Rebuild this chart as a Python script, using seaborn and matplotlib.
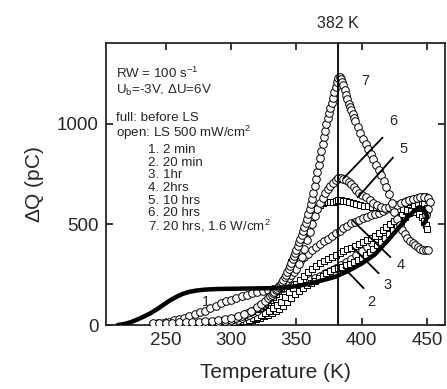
import numpy as np
import pandas as pd
import matplotlib
matplotlib.use("Agg")
import matplotlib.pyplot as plt
import seaborn as sns

# full curve, before light soaking
full_T = [213, 218, 223, 228, 233, 238, 243, 248, 253, 258, 263, 268, 273, 280, 290, 300, 310, 320, 330,
          340, 350, 360, 370, 380, 390, 400, 410, 420, 425, 430, 435, 440, 444, 447, 449, 450, 449, 447]
full_Q = [0, 5, 14, 27, 42, 58, 78, 100, 122, 140, 155, 165, 171, 176, 179, 180, 181, 182, 183,
          186, 193, 205, 222, 240, 270, 305, 350, 420, 458, 495, 535, 565, 585, 580, 560, 540, 515, 500]

# open curves after light soaking
c1_T = [240, 244, 248, 252, 256, 260, 264, 268, 272, 276, 280, 284, 288, 292, 296, 300, 304, 308, 312,
        316, 320, 324, 328, 332, 336, 340, 344, 348, 352, 356, 360, 364, 368, 372, 376, 380, 384, 388,
        392, 396, 400, 404, 408, 412, 416, 420, 424, 428, 432, 436, 440, 444, 447, 450]
c1_Q = [5, 8, 12, 17, 23, 30, 37, 45, 54, 63, 72, 84, 96, 107, 117, 126, 134, 142, 150,
        157, 163, 168, 173, 177, 181, 186, 192, 198, 205, 213, 222, 232, 244, 257, 270, 284, 298, 313,
        330, 348, 368, 388, 408, 430, 455, 480, 505, 530, 553, 573, 590, 598, 596, 575]

c2_T = [250, 253, 256, 259, 262, 265, 268, 271, 274, 277, 280, 283, 286, 289, 292, 295, 298, 301, 304,
        307, 310, 313, 316, 319, 322, 325, 328, 331, 334, 337, 340, 343, 346, 349, 352, 355, 358, 361,
        364, 367, 370, 373, 376, 379, 382, 385, 388, 391, 394, 397, 400, 403, 406, 409, 412, 415, 418,
        421, 424, 427, 430, 433, 436, 439, 442, 445, 448, 450]
c2_Q = [2, 2, 3, 3, 4, 4, 5, 5, 6, 6, 7, 7, 8, 8, 9, 9, 10, 11, 13,
        15, 18, 21, 25, 30, 36, 43, 50, 60, 70, 80, 95, 113, 133, 152, 168, 185, 197, 208,
        220, 232, 245, 258, 270, 278, 285, 290, 296, 303, 312, 323, 335, 348, 362, 378, 395, 413, 432,
        452, 473, 495, 517, 538, 557, 573, 585, 592, 585, 560]

c3_T = [260, 263, 266, 269, 272, 275, 278, 281, 284, 287, 290, 293, 296, 299, 302, 305, 308, 311, 314,
        317, 320, 323, 326, 329, 332, 335, 338, 341, 344, 347, 350, 353, 356, 359, 362, 365, 368, 371,
        374, 377, 380, 383, 386, 389, 392, 395, 398, 401, 404, 407, 410, 413, 416, 419, 422, 425, 428,
        431, 434, 437, 440, 443, 446, 448, 450]
c3_Q = [2, 3, 3, 4, 4, 5, 5, 6, 7, 8, 9, 10, 11, 12, 14, 16, 19, 22, 27,
        33, 40, 49, 59, 70, 83, 98, 115, 138, 162, 185, 205, 226, 245, 263, 280, 295, 307, 319,
        330, 340, 350, 360, 370, 378, 385, 393, 402, 411, 421, 432, 444, 457, 471, 486, 502, 518, 535,
        552, 568, 583, 596, 606, 612, 605, 580]

c4_T = [260, 263, 266, 269, 272, 275, 278, 281, 284, 287, 290, 293, 296, 299, 302, 305, 308, 311, 314,
        317, 320, 323, 326, 329, 332, 335, 338, 341, 344, 347, 350, 353, 356, 359, 362, 365, 368, 371,
        374, 377, 380, 383, 386, 389, 392, 395, 398, 401, 404, 407, 410, 413, 416, 419, 422, 425, 428,
        431, 434, 437, 440, 443, 446, 449, 451]
c4_Q = [3, 4, 5, 6, 7, 8, 9, 10, 12, 14, 16, 18, 19, 20, 22, 26, 33, 43, 52,
        61, 70, 85, 103, 122, 145, 170, 200, 228, 252, 276, 300, 320, 338, 355, 371, 387, 401, 415,
        428, 442, 455, 468, 480, 492, 505, 514, 523, 530, 537, 544, 551, 558, 566, 574, 582, 590, 598,
        606, 614, 621, 627, 632, 636, 635, 620]

c5_T = [260, 265, 270, 275, 280, 285, 290, 295, 300, 304, 308, 312, 316, 320, 322, 324, 326, 328, 330,
        332, 334, 336, 338, 340, 342, 344, 346, 348, 350, 352, 354, 356, 358, 360, 362, 364, 366, 368,
        370, 372, 374, 376, 378, 380, 382, 384, 386, 388, 390, 393, 396, 399, 402, 405, 408, 411, 414,
        417, 420, 423, 426, 429, 432, 435, 438, 441, 444, 446, 448, 449, 450]
c5_Q = [3, 4, 6, 8, 10, 13, 16, 20, 25, 35, 45, 58, 70, 80, 86, 92, 102, 113, 125,
        138, 152, 167, 185, 210, 245, 282, 315, 340, 362, 395, 425, 455, 485, 515, 538, 560, 580, 597,
        608, 612, 612, 610, 613, 617, 619, 619, 617, 614, 611, 607, 602, 597, 593, 590, 587, 585, 583,
        581, 580, 579, 578, 577, 575, 572, 567, 560, 550, 535, 515, 495, 475]

c6_T = [260, 265, 270, 275, 280, 285, 290, 295, 300, 304, 308, 312, 316, 320, 322, 324, 326, 328, 330,
        332, 334, 336, 338, 340, 342, 344, 346, 348, 350, 352, 354, 356, 358, 360, 362, 364, 366, 368,
        370, 372, 374, 376, 378, 380, 382, 384, 386, 388, 390, 392, 394, 396, 398, 400, 403, 406, 409,
        412, 415, 418, 421, 424, 427, 430, 433, 436, 439, 442, 445, 448, 451, 452, 451, 449]
c6_Q = [3, 4, 6, 8, 10, 13, 16, 20, 25, 35, 45, 60, 72, 85, 95, 105, 115, 127, 140,
        153, 167, 181, 195, 208, 220, 233, 247, 262, 280, 305, 340, 380, 420, 460, 500, 540, 575, 605,
        630, 655, 675, 692, 707, 720, 730, 729, 724, 718, 710, 698, 685, 670, 658, 648, 634, 620, 606,
        594, 585, 582, 584, 590, 597, 604, 612, 620, 627, 632, 635, 636, 632, 610, 575, 545]

c7_T = [240, 245, 250, 255, 260, 265, 270, 275, 280, 285, 290, 295, 300, 305, 310, 315, 320, 323, 326,
        328, 330, 331, 332, 333, 334, 335, 336, 337, 338, 339, 340, 341, 342, 343, 344, 345, 346, 347,
        348, 349, 350, 351, 352, 353, 354, 355, 356, 357, 358, 359, 360, 361, 362, 363, 364, 365, 366,
        367, 368, 369, 370, 371, 372, 373, 374, 375, 376, 377, 378, 379, 380, 381, 382, 383, 384, 385,
        386, 387, 388, 389, 390, 391, 392, 393, 394, 395, 397, 399, 401, 403, 405, 407, 409, 411, 413,
        415, 417, 419, 421, 423, 425, 427, 429, 431, 433, 435, 437, 439, 441, 443, 445, 447, 449, 451]
c7_Q = [10, 10, 11, 12, 13, 14, 15, 17, 19, 22, 25, 30, 35, 45, 57, 72, 90, 104, 120,
        132, 145, 151, 158, 165, 172, 180, 188, 195, 203, 213, 225, 237, 250, 264, 279, 294, 310, 326,
        342, 358, 375, 392, 410, 428, 446, 465, 485, 505, 527, 550, 575, 600, 627, 655, 690, 725, 760,
        795, 830, 865, 900, 932, 965, 998, 1030, 1055, 1080, 1105, 1130, 1155, 1180, 1208, 1228, 1230, 1222, 1208,
        1190, 1168, 1145, 1122, 1100, 1085, 1068, 1050, 1030, 1012, 985, 955, 925, 900, 875, 850, 825, 797, 770,
        745, 715, 685, 650, 605, 560, 525, 495, 470, 450, 432, 418, 405, 395, 387, 380, 375, 372, 371]

curve_names = ["1", "2", "3", "4", "5", "6", "7"]
curve_T = [c1_T, c2_T, c3_T, c4_T, c5_T, c6_T, c7_T]
curve_Q = [c1_Q, c2_Q, c3_Q, c4_Q, c5_Q, c6_Q, c7_Q]
curve_marker = ["o", "s", "s", "o", "s", "o", "o"]

header_lines = ["RW = 100 s$^{-1}$",
                "U$_{\\rm b}$=-3V, $\\Delta$U=6V",
                "full: before LS",
                "open: LS 500 mW/cm$^{2}$"]
step_labels = ["1. 2 min", "2. 20 min", "3. 1hr", "4. 2hrs", "5. 10 hrs", "6. 20 hrs",
               "7. 20 hrs, 1.6 W/cm$^{2}$"]

sns.set_style("ticks")
plt.rcParams["font.family"] = ["Liberation Sans", "DejaVu Sans"]
plt.rcParams["mathtext.fontset"] = "custom"
plt.rcParams["mathtext.rm"] = "Liberation Sans"
plt.rcParams["mathtext.it"] = "Liberation Sans"

fig = plt.figure(figsize=(4.47, 3.89), dpi=100)
ax = fig.add_axes([0.237, 0.1645, 0.759, 0.7245])

rows = []
for name, T, Q in zip(curve_names, curve_T, curve_Q):
    for t, q in zip(T, Q):
        rows.append({"curve": name, "T": t, "Q": q})
df = pd.DataFrame(rows)

# thin line through curve 7
sns.lineplot(data=df[df["curve"] == "7"], x="T", y="Q", sort=False, estimator=None,
             color="black", lw=0.8, ax=ax)

for name, m in zip(curve_names, curve_marker):
    d = df[df["curve"] == name]
    size = 30 if m == "o" else 22
    sns.scatterplot(data=d, x="T", y="Q", marker=m, s=size, facecolor="white",
                    edgecolor="black", linewidth=0.7, ax=ax, zorder=3)

full_df = pd.DataFrame({"T": full_T, "Q": full_Q})
sns.lineplot(data=full_df, x="T", y="Q", sort=False, estimator=None, color="black", lw=3.2,
             ax=ax, zorder=4)

ax.axvline(382, color="black", lw=1.3, zorder=5)

# pointer lines for the curve numbers
pointers = [((386, 401.5), (287, 183)), ((393, 413), (386, 257)), ((393, 422), (520, 337)),
            ((397, 424), (634, 832)), ((386, 416), (728, 931))]
for xs, ys in pointers:
    ax.plot(xs, ys, color="black", lw=1.3, zorder=5)
num_pos = [(281, 114), (407, 114), (420, 198), (430, 297), (432, 876), (424, 1015), (403, 1213)]
for name, (x, y) in zip(curve_names, num_pos):
    ax.text(x, y, name, fontsize=10.5, ha="center", va="center")

# annotation block
for s, yy in zip(header_lines, [0.894, 0.833, 0.734, 0.681]):
    ax.text(0.03, yy, s, transform=ax.transAxes, fontsize=9.6, va="center")
for i, s in enumerate(step_labels):
    ax.text(0.124, 0.621 - i * 0.045, s, transform=ax.transAxes, fontsize=9.6, va="center")

ax.text(382, 1500, "382 K", fontsize=11.5, ha="center", va="center")

ax.set_xlim(204, 464)
ax.set_ylim(0, 1400)
ax.set_xticks([250, 300, 350, 400, 450])
ax.set_yticks([0, 500, 1000])
ax.set_xlabel("Temperature (K)", fontsize=15, labelpad=10)
ax.set_ylabel("$\\Delta$Q (pC)", fontsize=15, labelpad=8)
ax.tick_params(direction="in", length=5, width=1.3, top=True, right=True, labelsize=13.5, pad=5)
for sp in ax.spines.values():
    sp.set_linewidth(1.3)

fig.savefig("out.png", dpi=100)
